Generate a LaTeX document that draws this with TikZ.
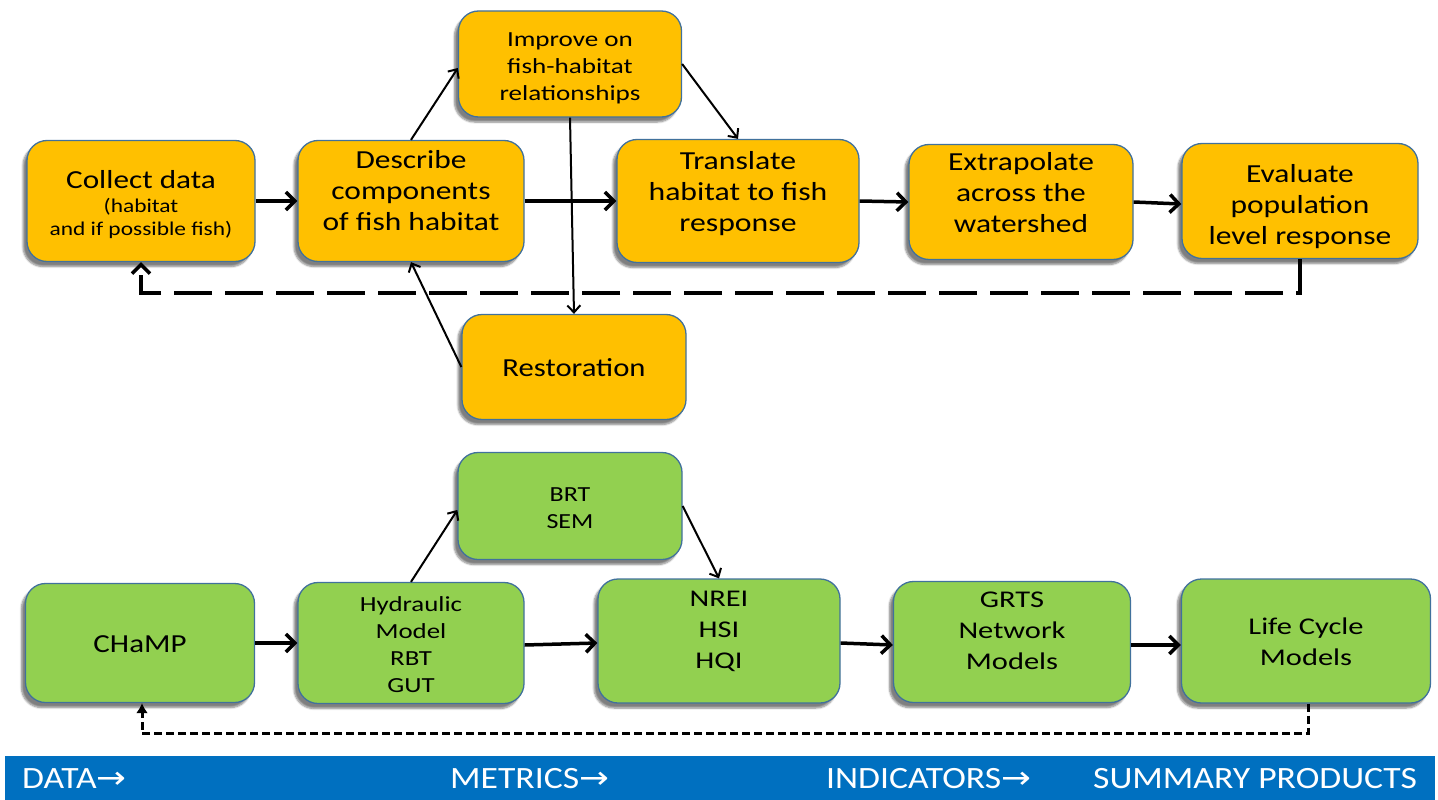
\documentclass[tikz,border=0pt]{standalone}
\usepackage{fontspec}
\usepackage{graphicx}
\setmainfont{Carlito}
\newfontfamily\arrfont{DejaVu Sans}
\usetikzlibrary{arrows.meta,shadows.blur}
\definecolor{orangebox}{HTML}{FFC000}
\definecolor{greenbox}{HTML}{92D050}
\definecolor{boxborder}{HTML}{41719C}
\definecolor{bandblue}{HTML}{0070C0}
\newcommand\ml[3]{\raisebox{#1}[\height][\depth]{\scalebox{#2}[1]{\begin{tabular}{@{}c@{}}#3\end{tabular}}}}
\tikzset{
  box/.style={draw=boxborder, line width=1.3pt, rounded corners=20pt, align=center,
    inner sep=0pt, text=black,
    blur shadow={shadow xshift=-4pt, shadow yshift=-5pt, shadow blur steps=6, shadow opacity=50}},
  obox/.style={box, fill=orangebox},
  gbox/.style={box, fill=greenbox},
  big/.style={font=\fontsize{26}{31}\selectfont},
  mid/.style={font=\fontsize{21.5}{27}\selectfont},
  narrowtext/.style={font=\fontsize{24}{31}\selectfont},
  thickarr/.style={line width=3.5pt, -{Straight Barb[length=9pt,width=18pt]}},
  thinarr/.style={line width=2pt, -{Straight Barb[length=7pt,width=13pt]}},
  bandtext/.style={text=white, anchor=west, inner sep=0pt, font=\fontsize{31}{33}\selectfont},
}
\begin{document}
\begin{tikzpicture}[x=1pt,y=-1pt]
\useasboundingbox (0,0) rectangle (1438,800);
% top row
\node[obox, big, minimum width=228pt, minimum height=121pt] (c) at (141,201)
  {\ml{-5pt}{1.2}{Collect data\\[-7pt]{\fontsize{19.5}{24}\selectfont (habitat}\\[-8pt]{\fontsize{19.5}{24}\selectfont and if possible fish)}}};
\node[obox, big, minimum width=226pt, minimum height=121pt] (d) at (411,201)
  {\ml{-3pt}{1.21}{Describe\\components\\of fish habitat\\[-10pt]\mbox{}}};
\node[obox, mid, minimum width=223pt, minimum height=106pt] (i) at (570,64)
  {\ml{-4pt}{1.26}{Improve on\\fish-habitat\\relationships}};
\node[obox, big, minimum width=242pt, minimum height=123pt] (t) at (738,201)
  {\ml{-4pt}{1.22}{Translate\\habitat to fish\\response\\[-10pt]\mbox{}}};
\node[obox, big, minimum width=224pt, minimum height=115pt] (e) at (1021,202)
  {\ml{-3pt}{1.21}{Extrapolate\\across the\\watershed\\[-12pt]\mbox{}}};
\node[obox, big, minimum width=236pt, minimum height=115pt] (v) at (1300,201)
  {\ml{-6pt}{1.21}{Evaluate\\population\\level response}};
\node[obox, big, minimum width=224pt, minimum height=105pt] (r) at (574,367)
  {\ml{-3pt}{1.18}{Restoration}};
% bottom row
\node[gbox, big, minimum width=229pt, minimum height=119pt] (ch) at (140,643) {\ml{-3pt}{1.19}{CHaMP}};
\node[gbox, mid, minimum width=226pt, minimum height=121pt] (hy) at (411,643)
  {\ml{-3.5pt}{1.25}{Hydraulic\\Model\\RBT\\GUT}};
\node[gbox, mid, minimum width=224pt, minimum height=107pt] (br) at (570,506)
  {\ml{-9pt}{1.21}{BRT\\SEM\\[-16pt]\mbox{}}};
\node[gbox, narrowtext, minimum width=242pt, minimum height=124pt] (nr) at (719,641)
  {\ml{1pt}{1.27}{NREI\\HSI\\HQI\\[-14pt]\mbox{}}};
\node[gbox, narrowtext, minimum width=237pt, minimum height=121pt] (gr) at (1012,642)
  {\ml{1pt}{1.27}{GRTS\\Network\\Models\\[-14pt]\mbox{}}};
\node[gbox, narrowtext, minimum width=249pt, minimum height=124pt] (lc) at (1306,641)
  {\ml{-3pt}{1.27}{Life Cycle\\Models}};
% top arrows
\draw[thickarr] (c.east) -- (d.west);
\draw[thickarr] (d.east) -- (t.west);
\draw[thinarr] (d.north) -- ([yshift=-4pt]i.west);
\draw[thinarr] (i.east) -- (t.north);
\draw[thinarr] (i.south) -- (r.north);
\draw[thinarr] (r.west) -- (d.south);
\draw[thickarr] (t.east) -- (e.west);
\draw[thickarr] (e.east) -- ([yshift=-3pt]v.west);
\draw[line width=3.5pt, dash pattern=on 38pt off 13pt, -{Straight Barb[length=9pt,width=18pt]}]
  (v.south) -- ++(0,34) -| (c.south);
% bottom arrows
\draw[thickarr] (ch.east) -- (hy.west);
\draw[thickarr] ([yshift=-2pt]hy.east) -- ([yshift=-2pt]nr.west);
\draw[thinarr] (hy.north) -- ([yshift=-4pt]br.west);
\draw[thinarr] (br.east) -- (nr.north);
\draw[thickarr] ([yshift=-2pt]nr.east) -- ([yshift=-3pt]gr.west);
\draw[thickarr] ([yshift=-3pt]gr.east) -- ([yshift=-4pt]lc.west);
\draw[line width=3pt, dash pattern=on 8pt off 4pt, -{Latex[length=10pt,width=12pt]}]
  ([xshift=2pt]lc.south) -- ++(0,30) -| ([xshift=2pt]ch.south);
% band
\fill[bandblue] (5,756) rectangle (1435,800);
\node[bandtext] (b1) at (22,779) {\scalebox{1.15}[1]{DATA{\arrfont →}}};
\node[bandtext] (b2) at (450,779) {\scalebox{1.15}[1]{METRICS{\arrfont →}}};
\node[bandtext] (b3) at (826,779) {\scalebox{1.15}[1]{INDICATORS{\arrfont →}}};
\node[bandtext] (b4) at (1093,779) {\scalebox{1.15}[1]{SUMMARY PRODUCTS}};
\end{tikzpicture}
\end{document}
